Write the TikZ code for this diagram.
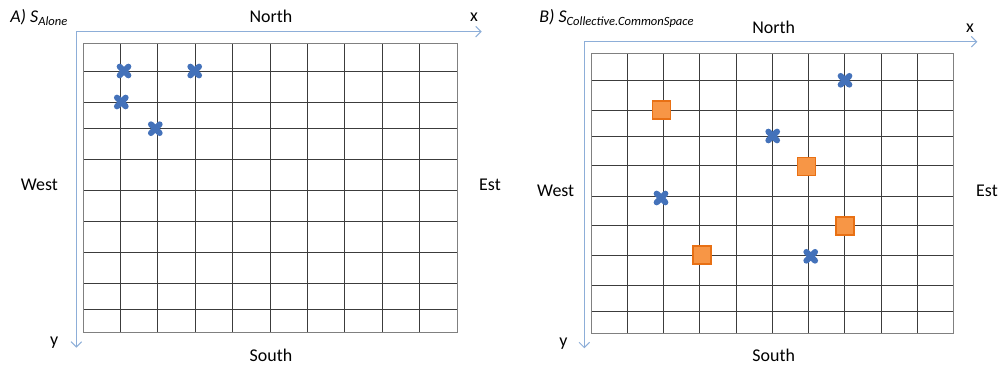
\documentclass[tikz,border=0pt]{standalone}
\usepackage{fontspec}
\setmainfont{Carlito}
\usepackage{xcolor}
\usepackage{tikz}
\usetikzlibrary{arrows.meta, positioning}
\definecolor{axisblue}{RGB}{141,174,216}
\definecolor{markblue}{RGB}{68,114,186}
\definecolor{boxorange}{RGB}{247,150,70}
\definecolor{boxedge}{RGB}{232,112,20}
\definecolor{gridgray}{RGB}{60,60,60}

\newcommand{\crossat}[2]{%
  \node[crossmark] (#1) at (#2) {};
  \draw[crossline] (#1.north west) -- (#1.south east) (#1.north east) -- (#1.south west);
}

\begin{document}
\begin{tikzpicture}[x=0.02cm, y=-0.02cm,
  lbl/.style={font=\fontsize{10.2}{12}\selectfont, inner sep=0pt},
  title/.style={font=\fontsize{10.2}{12}\selectfont\itshape, inner sep=0pt, anchor=base west},
  axis/.style={-{Straight Barb[length=3pt, width=6pt]}, axisblue, line width=0.6pt},
  gridline/.style={gridgray, line width=0.55pt},
  crossmark/.style={inner sep=0pt, minimum size=0.16cm},
  crossline/.style={markblue, line width=0.12cm, line cap=round},
  boxmark/.style={rectangle, draw=boxedge, fill=boxorange, line width=0.7pt,
                  minimum size=0.36cm, inner sep=0pt}
]
\useasboundingbox (0,0) rectangle (1003,368);

% A) alone
\foreach \i in {0,...,10}
  \draw[gridline] ({83+37.4*\i},43.3) -- ({83+37.4*\i},332.3);
\foreach \r in {43.3,71,102.3,128.3,159.3,190.3,221,252,283,309.7,332.3}
  \draw[gridline] (83,\r) -- (457,\r);
\draw[gridline, gray] (83,43.3) rectangle (457,332.3);

\coordinate (Ao) at (76.3,31.7);
\coordinate (Ax) at (481.7,31.7);
\coordinate (Ay) at (76.3,347.7);
\draw[axis] (Ao) -- (Ax);
\draw[axis] (Ao) -- (Ay);

\node[title] (Atitle) at (10,22.5) {A) S\textsubscript{Alone}};
\node[lbl, anchor=base] (Anorth) at (271,22.5) {North};
\node[lbl, anchor=base] (Ax-lbl) at (474,22) {x};
\node[lbl, anchor=base] (Awest) at (39.3,190) {West};
\node[lbl, anchor=base] (Aest) at (490,190) {Est};
\node[lbl] (Ay-lbl) at (54.3,343) {y};
\node[lbl, anchor=base] (Asouth) at (271,361.7) {South};

\crossat{Ac1}{124,71}
\crossat{Ac2}{194.7,71}
\crossat{Ac3}{121.3,102}
\crossat{Ac4}{155.3,128.7}

% B) collective, common space
\foreach \i in {0,...,10}
  \draw[gridline] ({591+36.27*\i},53.3) -- ({591+36.27*\i},333.3);
\foreach \r in {53.3,80.3,110,136,165.7,196,225.7,255.7,285.3,311.3,333.3}
  \draw[gridline] (591,\r) -- (953.7,\r);
\draw[gridline, gray] (591,53.3) rectangle (953.7,333.3);

\coordinate (Bo) at (584.3,41.7);
\coordinate (Bx) at (977.3,41.7);
\coordinate (By) at (584.3,348.3);
\draw[axis] (Bo) -- (Bx);
\draw[axis] (Bo) -- (By);

\node[title] (Btitle) at (539,22.5) {B) S\textsubscript{Collective.CommonSpace}};
\node[lbl, anchor=base] (Bnorth) at (773.7,33.3) {North};
\node[lbl, anchor=base] (Bx-lbl) at (970,32.3) {x};
\node[lbl, anchor=base] (Bwest) at (555.7,196) {West};
\node[lbl, anchor=base] (Best) at (987,196) {Est};
\node[lbl] (By-lbl) at (563.3,344) {y};
\node[lbl, anchor=base] (Bsouth) at (773.7,361.7) {South};

\crossat{Bc1}{845,80.3}
\crossat{Bc2}{772.7,136}
\crossat{Bc3}{661,198}
\crossat{Bc4}{810.7,256.3}

\node[boxmark] (Bs1) at (661.3,110) {};
\node[boxmark] (Bs2) at (806.7,166.7) {};
\node[boxmark] (Bs3) at (845,226) {};
\node[boxmark] (Bs4) at (702,255) {};
\end{tikzpicture}
\end{document}
